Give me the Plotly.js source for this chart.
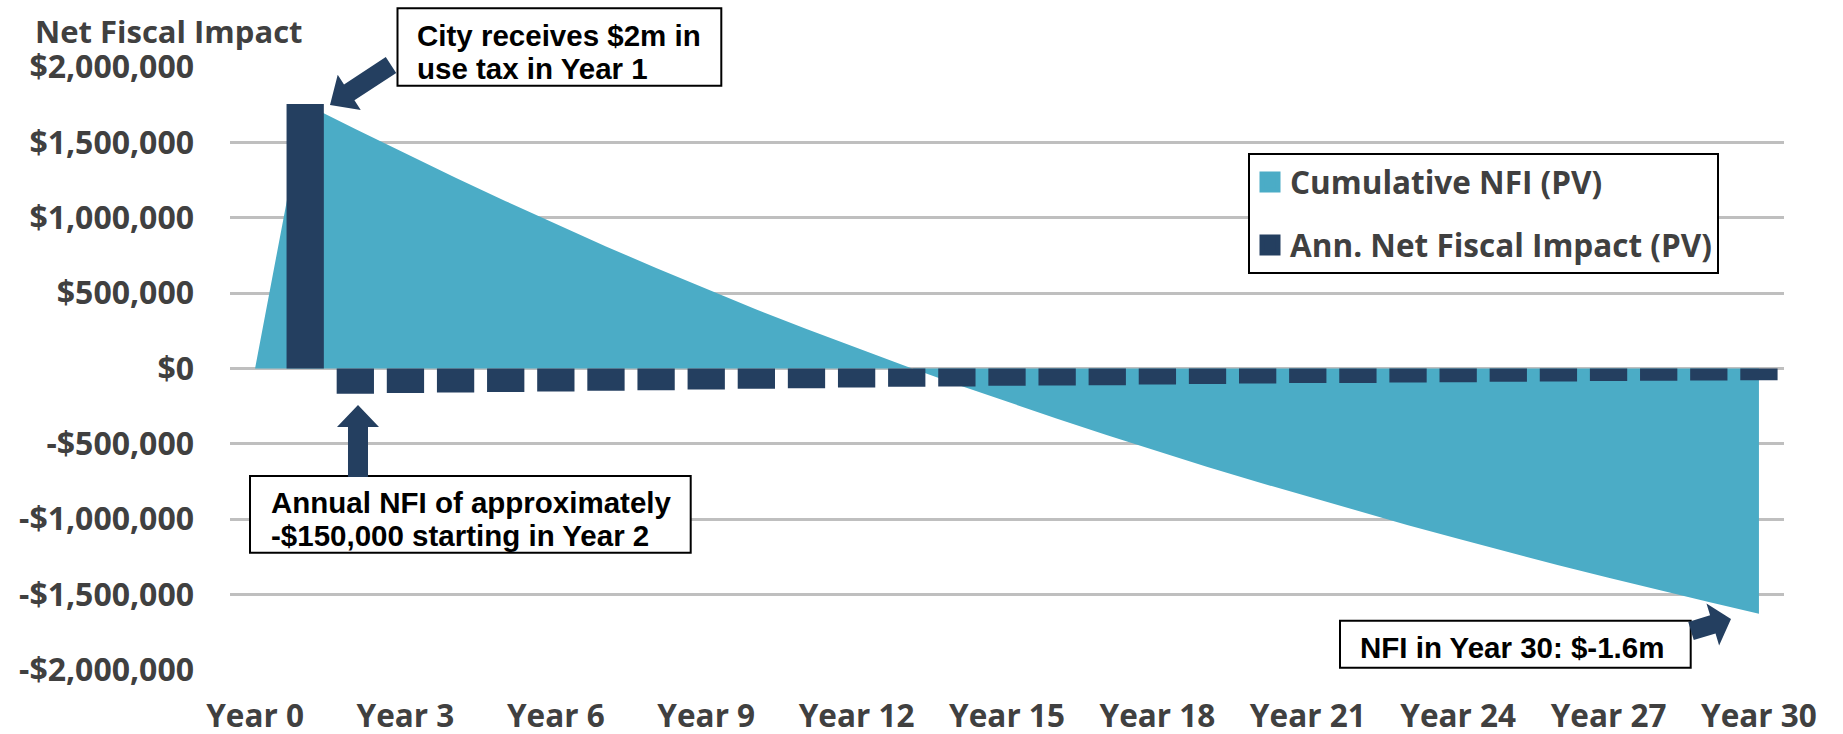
<!DOCTYPE html>
<html>
<head>
<meta charset="utf-8">
<script src="https://cdn.plot.ly/plotly-3.0.1.min.js"></script>
<style>
html,body{margin:0;padding:0;background:#ffffff;}
#chart{width:1843px;height:734px;}
</style>
</head>
<body>
<div id="chart"></div>
<script>
// ---------- data ----------
const years = ["Year 0","Year 1","Year 2","Year 3","Year 4","Year 5","Year 6","Year 7","Year 8","Year 9","Year 10",
  "Year 11","Year 12","Year 13","Year 14","Year 15","Year 16","Year 17","Year 18","Year 19","Year 20",
  "Year 21","Year 22","Year 23","Year 24","Year 25","Year 26","Year 27","Year 28","Year 29","Year 30"];

const annualNFI = [null, 1755000, -167000, -163000, -159000, -156000, -152000, -148000, -143500, -139500, -135000,
  -130500, -126000, -121500, -119500, -115000, -112500, -110500, -106500, -103500, -99500,
  -97000, -96500, -93000, -90500, -88500, -86500, -83500, -81500, -79500, -77500];

const cumulativeNFI = [0, 1755000, 1588000, 1425000, 1266000, 1110000, 958000, 810000, 666500, 527000, 392000,
  261500, 135500, 14000, -105500, -220500, -333000, -443500, -550000, -653500, -753000,
  -850000, -946500, -1039500, -1130000, -1218500, -1305000, -1388500, -1470000, -1549500, -1627000];

const xTickLabels = ["Year 0","Year 3","Year 6","Year 9","Year 12","Year 15","Year 18","Year 21","Year 24","Year 27","Year 30"];
const yTickValues = [2000000, 1500000, 1000000, 500000, 0, -500000, -1000000, -1500000, -2000000];
const yTickLabels = ["$2,000,000","$1,500,000","$1,000,000","$500,000","$0","-$500,000","-$1,000,000","-$1,500,000","-$2,000,000"];

const seriesNames = ["Cumulative NFI (PV)", "Ann. Net Fiscal Impact (PV)"];
const yAxisTitle = "Net Fiscal Impact";
const note1 = ["City receives $2m in", "use tax in Year 1"];
const note2 = ["Annual NFI of approximately", "-$150,000 starting in Year 2"];
const note3 = ["NFI in Year 30: $-1.6m"];

// ---------- styling / geometry ----------
const W = 1843, H = 734;
const M = {l: 230, r: 59, t: 67, b: 64};
const PW = W - M.l - M.r, PH = H - M.t - M.b;
const px = X => (X - M.l) / PW;
const py = Y => (H - M.b - Y) / PH;

const TEAL = '#4BACC6', NAVY = '#243F60', GRAY = '#404040', GRID = '#BFBFBF';
const tickFont = {family: 'Open Sans, sans-serif', size: 32, weight: 700, color: GRAY};
const noteFont = {family: 'Liberation Sans, Arial, sans-serif', size: 29.5, weight: 700, color: '#000000'};

function blockArrow(tail, tip, sw, hw, hl) {
  const dx = tip[0] - tail[0], dy = tip[1] - tail[1];
  const L = Math.hypot(dx, dy);
  const ux = dx / L, uy = dy / L;
  const nx = -uy, ny = ux;
  const bx = tip[0] - ux * hl, by = tip[1] - uy * hl;
  const pts = [
    [tail[0] + nx * sw / 2, tail[1] + ny * sw / 2],
    [bx + nx * sw / 2, by + ny * sw / 2],
    [bx + nx * hw / 2, by + ny * hw / 2],
    [tip[0], tip[1]],
    [bx - nx * hw / 2, by - ny * hw / 2],
    [bx - nx * sw / 2, by - ny * sw / 2],
    [tail[0] - nx * sw / 2, tail[1] - ny * sw / 2]
  ];
  return 'M' + pts.map(p => px(p[0]).toFixed(5) + ',' + py(p[1]).toFixed(5)).join(' L') + ' Z';
}

function boxShape(x0, y0, x1, y1) {
  return {type: 'rect', xref: 'paper', yref: 'paper', x0: px(x0), x1: px(x1), y0: py(y1), y1: py(y0),
    line: {color: '#000000', width: 2}, fillcolor: '#ffffff', layer: 'above'};
}
function arrowShape(path) {
  return {type: 'path', xref: 'paper', yref: 'paper', path: path, fillcolor: NAVY, line: {width: 0}, layer: 'above'};
}
function textLines(lines, left, firstCenter, step) {
  return lines.map((t, i) => ({
    text: t, xref: 'paper', yref: 'paper', x: px(left), y: py(firstCenter + i * step),
    xanchor: 'left', yanchor: 'middle', showarrow: false, font: noteFont, borderpad: 0
  }));
}

// ---------- traces ----------
const traces = [
  {type: 'scatter', mode: 'lines', x: years, y: cumulativeNFI, xaxis: 'x', yaxis: 'y',
   fill: 'tozeroy', fillcolor: TEAL, line: {width: 0, color: TEAL}, showlegend: false, hoverinfo: 'skip'},
  {type: 'bar', x: years, y: annualNFI, xaxis: 'x', yaxis: 'y2',
   marker: {color: NAVY, line: {width: 0}}, showlegend: false, hoverinfo: 'skip'},
  {type: 'scatter', mode: 'markers', x: [null], y: [null], name: seriesNames[0], legendgroup: 'g1',
   marker: {symbol: 'square', size: 16, color: TEAL, line: {color: TEAL, width: 5}}, hoverinfo: 'skip'},
  {type: 'scatter', mode: 'markers', x: [null], y: [null], name: seriesNames[1], legendgroup: 'g2',
   marker: {symbol: 'square', size: 16, color: NAVY, line: {color: NAVY, width: 5}}, hoverinfo: 'skip'}
];

const layout = {
  width: W, height: H,
  margin: M,
  paper_bgcolor: '#ffffff', plot_bgcolor: '#ffffff',
  showlegend: true,
  bargap: 0.256,
  xaxis: {
    type: 'category', categoryorder: 'array', categoryarray: years,
    range: [-0.5, years.length - 0.5], fixedrange: true,
    tickmode: 'array', tickvals: xTickLabels, ticktext: xTickLabels,
    showgrid: false, zeroline: false, showline: false, ticks: '',
    tickfont: Object.assign({}, tickFont, {size: 31.5}), ticklabelstandoff: 24
  },
  yaxis: {
    range: [-2000000, 2000000], fixedrange: true,
    tickmode: 'array', tickvals: yTickValues, ticktext: yTickLabels,
    showgrid: true, gridcolor: GRID, gridwidth: 3,
    zeroline: true, zerolinecolor: GRID, zerolinewidth: 3,
    showline: false, ticks: '', tickfont: tickFont, ticklabelstandoff: 35
  },
  yaxis2: {
    range: [-2000000, 2000000], overlaying: 'y', visible: false, fixedrange: true
  },
  legend: {
    x: px(1248), y: py(153), xanchor: 'left', yanchor: 'top',
    bgcolor: '#ffffff', bordercolor: '#000000', borderwidth: 2,
    font: {family: 'Open Sans, sans-serif', size: 31.5, weight: 700, color: GRAY},
    itemsizing: 'trace', traceorder: 'grouped', tracegroupgap: 19
  },
  shapes: [
    boxShape(397.5, 8.3, 721.3, 85.7),
    boxShape(250, 476, 690.7, 552.7),
    boxShape(1340, 620.7, 1690.7, 667.7),
    arrowShape(blockArrow([391, 65], [330, 105], 19, 42, 23)),
    arrowShape(blockArrow([358, 477], [358, 405], 20, 42, 22)),
    arrowShape(blockArrow([1691, 631], [1731, 619], 19, 44, 19))
  ],
  annotations: [
    {text: yAxisTitle, xref: 'paper', yref: 'paper', x: px(34), y: py(31.5), xanchor: 'left', yanchor: 'middle',
     showarrow: false, font: {family: 'Open Sans, sans-serif', size: 31, weight: 700, color: GRAY}, borderpad: 0}
  ].concat(
    textLines(note1, 416, 35.5, 32.6),
    textLines(note2, 269.5, 502.2, 33.4),
    textLines(note3, 1358.6, 647.2, 0)
  )
};

Plotly.newPlot('chart', traces, layout, {staticPlot: true, displayModeBar: false});
</script>
</body>
</html>
